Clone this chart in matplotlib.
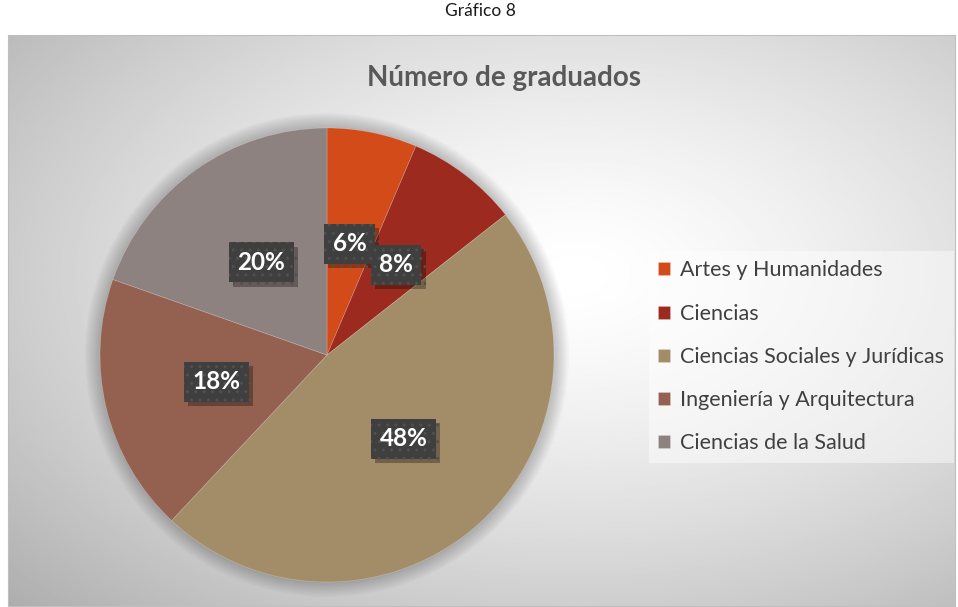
import numpy as np
import matplotlib
matplotlib.use("Agg")
import matplotlib.pyplot as plt
from matplotlib import patheffects
from matplotlib.patches import Circle

# datos del grafico
categorias = ["Artes y Humanidades", "Ciencias", "Ciencias Sociales y Jurídicas",
              "Ingeniería y Arquitectura", "Ciencias de la Salud"]
porcentajes = [6.4, 8.0, 47.6, 18.4, 19.6]
colores = ["#D24B19", "#9C2A1E", "#A38D69", "#946150", "#8E8280"]

plt.rcParams['font.family'] = ['Lato', 'DejaVu Sans']

fig = plt.figure(figsize=(9.58, 6.07), dpi=100)
W, H = 958, 607

# fondo con degradado radial
bg = fig.add_axes([8 / W, 1 / H, 947 / W, 571 / H])
yy, xx = np.mgrid[0:1:300j, 0:1:500j]
r = np.sqrt(((xx - 0.6) / 0.8) ** 2 + ((yy - 0.42) / 0.8) ** 2)
grad = np.clip(1 - 0.3 * r ** 1.4, 0, 1)
bg.imshow(grad, cmap="gray", vmin=0, vmax=1, extent=[0, 1, 0, 1], aspect="auto")
bg.set_xticks([])
bg.set_yticks([])
for s in bg.spines.values():
    s.set_color("#bfbfbf")
    s.set_linewidth(0.8)

fig.text(480 / W, 1 - 11 / H, "Gráfico 8", ha="center", va="center", fontsize=12.5, color="#1a1a1a")
fig.text(504 / W, 1 - 78 / H, "Número de graduados", ha="center", va="center",
         fontsize=20, fontweight="bold", color="#595959")

# pastel
cx, cy, rad = 327, 355, 227
half = rad * 1.1
ax = fig.add_axes([(cx - half) / W, (H - cy - half) / H, 2 * half / W, 2 * half / H])
ax.patch.set_alpha(0)

# sombra suave
for i in range(12):
    ax.add_patch(Circle((0, 0), 1 + 0.006 * i, color="black", alpha=0.018, lw=0, zorder=0))

wedges, textos, autotextos = ax.pie(porcentajes, colors=colores, startangle=90, counterclock=False,
                                    autopct="%.0f%%", pctdistance=0.5,
                                    wedgeprops=dict(linewidth=0.5, edgecolor="#ffffff40"))
for w in wedges:
    w.set_zorder(2)
for t in autotextos:
    t.set_color("white")
    t.set_fontsize(17.5)
    t.set_fontweight("bold")
    t.set_zorder(5)
    t.set_bbox(dict(boxstyle="square,pad=0.35", facecolor="#3f3f3f", edgecolor="#505050",
                    hatch="..", linewidth=0))
    t.get_bbox_patch().set_path_effects([patheffects.SimplePatchShadow(offset=(3, -3), alpha=0.3,
                                                                       shadow_rgbFace="black"),
                                         patheffects.Normal()])
ax.set_xlim(-1.1, 1.1)
ax.set_ylim(-1.1, 1.1)
ax.axis("off")

# leyenda
leg = fig.legend(wedges, categorias, loc="upper left", bbox_to_anchor=(638 / W, 1 - 240 / H),
                 frameon=True, fontsize=15.5, handlelength=0.55, handleheight=0.55,
                 handletextpad=0.45, labelspacing=1.08, borderpad=0.45, fancybox=False)
leg.get_frame().set_facecolor("white")
leg.get_frame().set_alpha(0.45)
leg.get_frame().set_linewidth(0)
for t in leg.get_texts():
    t.set_color("#404040")

fig.savefig("out.png", dpi=100)
